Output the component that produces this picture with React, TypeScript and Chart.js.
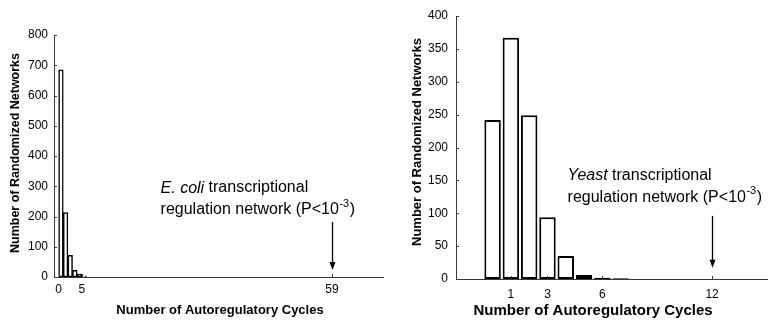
import React, { useEffect, useRef } from "react";
import { Chart, registerables } from "chart.js";

Chart.register(...registerables);

const FONT = "'Liberation Sans', Arial, Helvetica, sans-serif";
const AXIS_COLOR = "#3a3a3a";

// ---- E. coli panel data ----
const ecoliBins = [0, 1, 2, 3, 4, 5];
const ecoliCounts = [685, 213, 72, 22, 10, 3];
const ecoliXTicks = [0, 5, 59];
const ecoliYTicks = [0, 100, 200, 300, 400, 500, 600, 700, 800];
const ecoliObserved = 59;

// ---- Yeast panel data ----
const yeastBins = [0, 1, 2, 3, 4, 5, 6, 7];
const yeastCounts = [242, 367, 249, 94, 35, 6, 2, 1];
const yeastXTicks = [1, 3, 6, 12];
const yeastYTicks = [0, 50, 100, 150, 200, 250, 300, 350, 400];
const yeastObserved = 12;

const yTitle = "Number of Randomized Networks";
const xTitle = "Number of Autoregulatory Cycles";

type Panel = {
  width: number;
  bins: number[];
  counts: number[];
  binOffset: number;
  xTicks: number[];
  yTicks: number[];
  xMin: number;
  xMax: number;
  yMax: number;
  plotLeft: number;
  plotRight: number;
  plotTop: number;
  plotBottom: number;
  barPct: number;
  borderW: number;
  tickFont: number;
  tickPadX: number;
  tickPadY: number;
  yTitleX: number;
  yTitleY: number;
  yTitleSize: number;
  xTitleX: number;
  xTitleY: number;
  xTitleSize: number;
  italic: string;
  noteX: number;
  noteY: number;
  noteSize: number;
  observed: number;
  arrowFrom: number;
  arrowTo: number;
};

const ecoliPanel: Panel = {
  width: 400,
  bins: ecoliBins,
  counts: ecoliCounts,
  binOffset: 0.5,
  xTicks: ecoliXTicks,
  yTicks: ecoliYTicks,
  xMin: -1,
  xMax: 70,
  yMax: 800,
  plotLeft: 54,
  plotRight: 383,
  plotTop: 35,
  plotBottom: 277,
  barPct: 1,
  borderW: 1.5,
  tickFont: 12,
  tickPadX: 6,
  tickPadY: 5,
  yTitleX: 16,
  yTitleY: 153,
  yTitleSize: 12.5,
  xTitleX: 220,
  xTitleY: 310,
  xTitleSize: 13,
  italic: "E. coli",
  noteX: 22,
  noteY: 294,
  noteSize: 16,
  observed: ecoliObserved,
  arrowFrom: 182,
  arrowTo: 23,
};

const yeastPanel: Panel = {
  width: 369,
  bins: yeastBins,
  counts: yeastCounts,
  binOffset: 0,
  xTicks: yeastXTicks,
  yTicks: yeastYTicks,
  xMin: -2,
  xMax: 15,
  yMax: 400,
  plotLeft: 56,
  plotRight: 367,
  plotTop: 16,
  plotBottom: 279,
  barPct: 0.9,
  borderW: 2,
  tickFont: 12,
  tickPadX: 8,
  tickPadY: 8,
  yTitleX: 17,
  yTitleY: 142,
  yTitleSize: 13,
  xTitleX: 193,
  xTitleY: 311,
  xTitleSize: 15,
  italic: "Yeast",
  noteX: 4.1,
  noteY: 158,
  noteSize: 16,
  observed: yeastObserved,
  arrowFrom: 96,
  arrowTo: 17,
};

function decorPlugin(p: Panel) {
  return {
    id: "decor",
    afterDraw(chart: any) {
      const ctx: CanvasRenderingContext2D = chart.ctx;
      const xs = chart.scales.x;
      const ys = chart.scales.y;
      const ca = chart.chartArea;
      ctx.save();
      // inward tick marks
      ctx.strokeStyle = AXIS_COLOR;
      ctx.lineWidth = 1;
      xs.ticks.forEach((t: any) => {
        const px = Math.round(xs.getPixelForValue(t.value)) + 0.5;
        ctx.beginPath();
        ctx.moveTo(px, ca.bottom);
        ctx.lineTo(px, ca.bottom - 3);
        ctx.stroke();
      });
      ys.ticks.forEach((t: any) => {
        const py = Math.round(ys.getPixelForValue(t.value)) + 0.5;
        ctx.beginPath();
        ctx.moveTo(ca.left, py);
        ctx.lineTo(ca.left + 3, py);
        ctx.stroke();
      });

      // axis titles
      ctx.fillStyle = "#000";
      ctx.textBaseline = "middle";
      ctx.textAlign = "center";
      ctx.font = `bold ${p.xTitleSize}px ${FONT}`;
      ctx.fillText(xTitle, p.xTitleX, p.xTitleY);
      ctx.save();
      ctx.translate(p.yTitleX, p.yTitleY);
      ctx.rotate(-Math.PI / 2);
      ctx.font = `bold ${p.yTitleSize}px ${FONT}`;
      ctx.fillText(yTitle, 0, 0);
      ctx.restore();

      // annotation text
      const nx = xs.getPixelForValue(p.noteX);
      const ny = ys.getPixelForValue(p.noteY);
      const gap = 22;
      ctx.textAlign = "left";
      ctx.textBaseline = "middle";
      ctx.font = `italic ${p.noteSize}px ${FONT}`;
      ctx.fillText(p.italic, nx, ny);
      let w = ctx.measureText(p.italic).width;
      ctx.font = `${p.noteSize}px ${FONT}`;
      ctx.fillText(" transcriptional", nx + w, ny);
      const l2 = "regulation network (P<10";
      ctx.fillText(l2, nx, ny + gap);
      w = ctx.measureText(l2).width;
      ctx.font = `${Math.round(p.noteSize * 0.68)}px ${FONT}`;
      const sup = "-3";
      ctx.fillText(sup, nx + w + 0.5, ny + gap - 6);
      const sw = ctx.measureText(sup).width;
      ctx.font = `${p.noteSize}px ${FONT}`;
      ctx.fillText(")", nx + w + sw + 1, ny + gap);

      // arrow
      const ax = Math.round(xs.getPixelForValue(p.observed)) + 0.5;
      const y1 = ys.getPixelForValue(p.arrowFrom);
      const y2 = ys.getPixelForValue(p.arrowTo);
      ctx.strokeStyle = "#000";
      ctx.lineWidth = 1.3;
      ctx.beginPath();
      ctx.moveTo(ax, y1);
      ctx.lineTo(ax, y2 - 6);
      ctx.stroke();
      ctx.fillStyle = "#000";
      ctx.beginPath();
      ctx.moveTo(ax - 3, y2 - 8);
      ctx.lineTo(ax + 3, y2 - 8);
      ctx.lineTo(ax, y2);
      ctx.closePath();
      ctx.fill();
      ctx.restore();
    },
  };
}

function HistPanel({ p, left }: { p: Panel; left: number }) {
  const ref = useRef<HTMLCanvasElement | null>(null);
  useEffect(() => {
    if (!ref.current) return;
    const chart = new Chart(ref.current, {
      type: "bar",
      data: {
        datasets: [
          {
            data: p.bins.map((b, i) => ({ x: b + p.binOffset, y: p.counts[i] })),
            backgroundColor: "#ffffff",
            borderColor: "#000000",
            borderWidth: p.borderW,
            borderSkipped: false,
            barPercentage: p.barPct,
            categoryPercentage: 1,
          },
        ],
      },
      options: {
        responsive: false,
        animation: false,
        devicePixelRatio: 1,
        layout: {
          padding: { left: 0, top: p.plotTop, right: p.width - p.plotRight, bottom: 0 },
        },
        plugins: { legend: { display: false }, tooltip: { enabled: false } },
        scales: {
          x: {
            type: "linear",
            min: p.xMin,
            max: p.xMax,
            offset: false,
            grid: { display: false, drawTicks: false },
            border: { display: true, color: AXIS_COLOR, width: 1 },
            ticks: {
              color: "#000",
              font: { family: FONT, size: p.tickFont },
              padding: p.tickPadY,
              maxRotation: 0,
            },
            afterBuildTicks: (s: any) => {
              s.ticks = p.xTicks.map((v) => ({ value: v }));
            },
            afterFit: (s: any) => {
              s.height = 320 - p.plotBottom;
            },
          },
          y: {
            min: 0,
            max: p.yMax,
            grid: { display: false, drawTicks: false },
            border: { display: true, color: AXIS_COLOR, width: 1 },
            ticks: {
              color: "#000",
              font: { family: FONT, size: p.tickFont },
              padding: p.tickPadX,
            },
            afterBuildTicks: (s: any) => {
              s.ticks = p.yTicks.map((v) => ({ value: v }));
            },
            afterFit: (s: any) => {
              s.width = p.plotLeft;
            },
          },
        },
      } as any,
      plugins: [decorPlugin(p)],
    });
    return () => chart.destroy();
  }, [p]);
  return (
    <canvas
      ref={ref}
      width={p.width}
      height={320}
      style={{ position: "absolute", left, top: 0, width: p.width, height: 320 }}
    />
  );
}

export default function App() {
  return (
    <div
      style={{
        position: "fixed",
        left: 0,
        top: 0,
        width: 769,
        height: 320,
        background: "#fff",
        overflow: "hidden",
      }}
    >
      <HistPanel p={ecoliPanel} left={0} />
      <HistPanel p={yeastPanel} left={400} />
    </div>
  );
}
